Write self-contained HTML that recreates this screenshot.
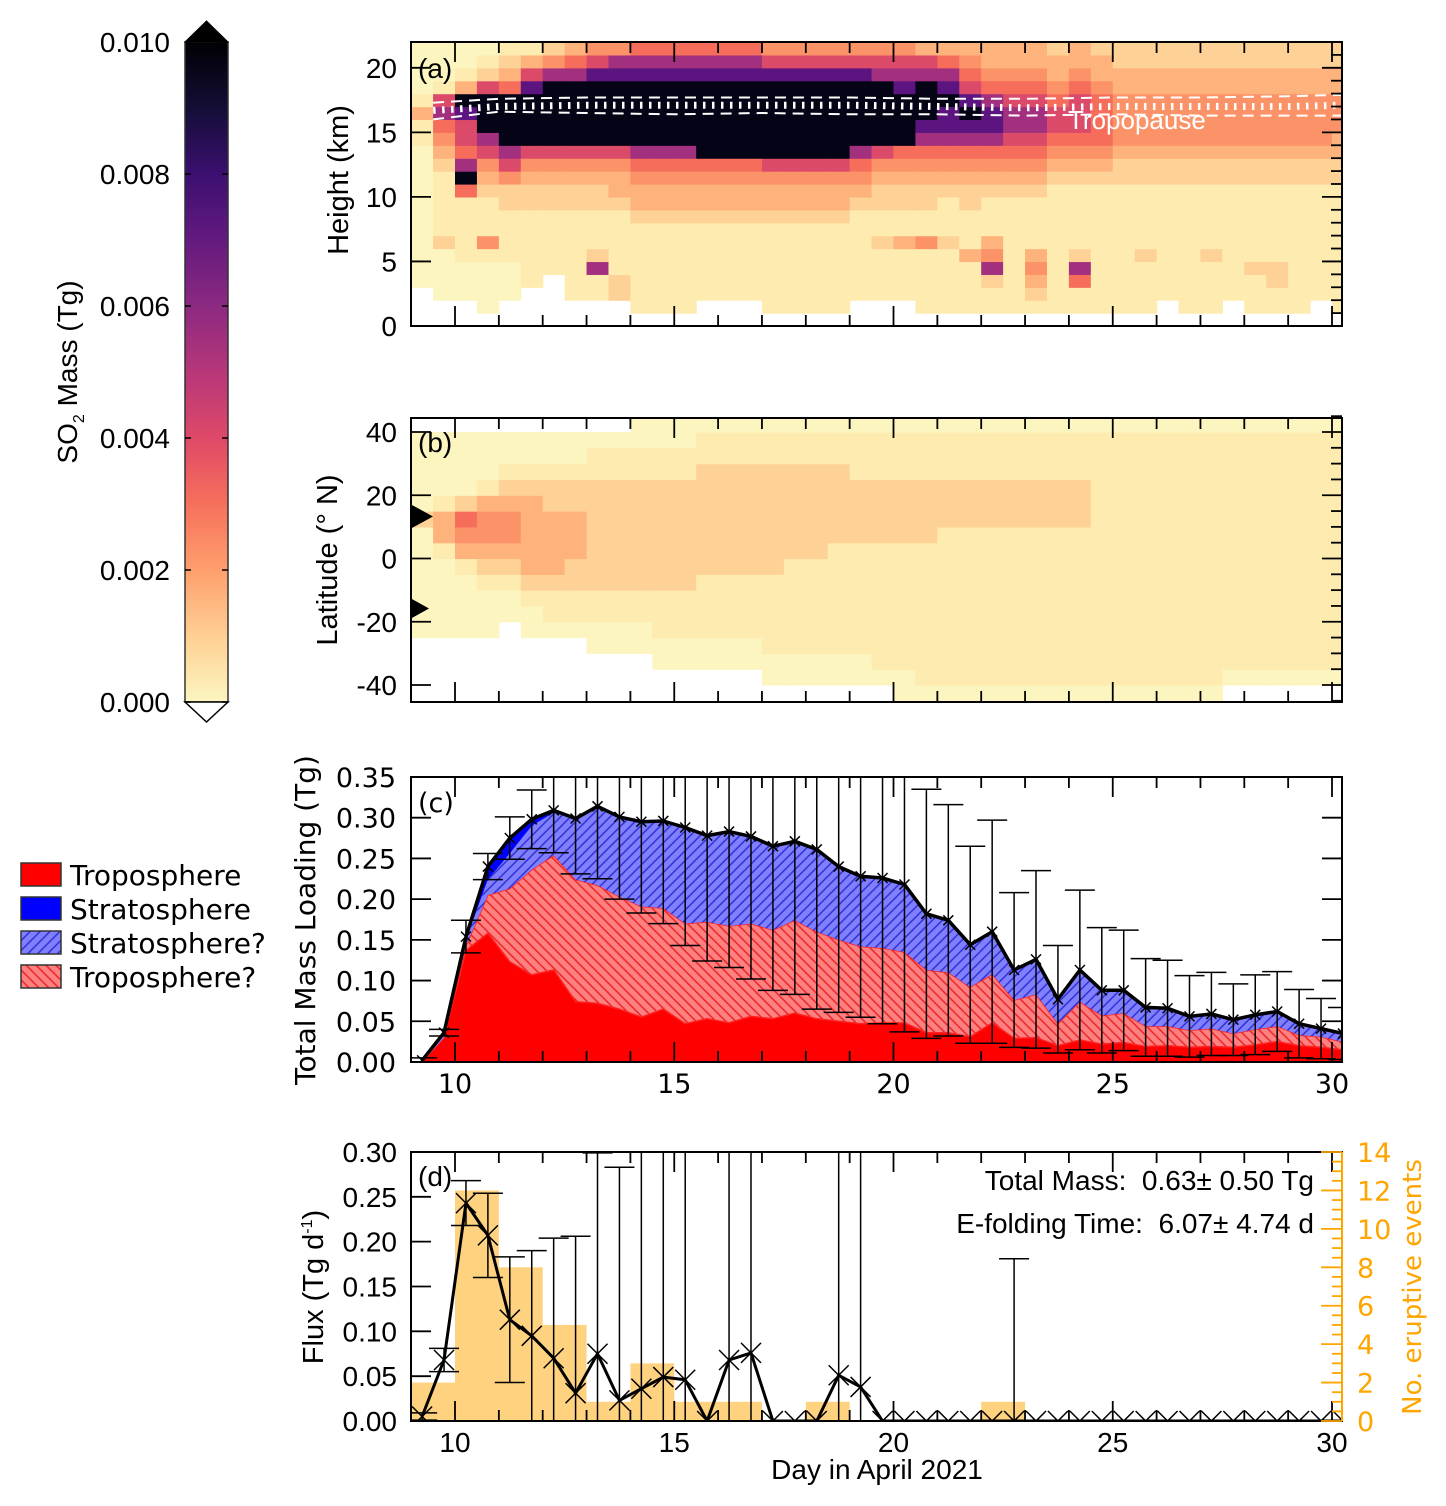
<!DOCTYPE html>
<html><head><meta charset="utf-8"><title>SO2 mass chart</title>
<style>
html,body{margin:0;padding:0;background:#fff;width:1446px;height:1506px;overflow:hidden;}
svg{display:block;}
.lib{font-family:"Liberation Sans",Arial,sans-serif;}
.dv{font-family:"DejaVu Sans","Liberation Sans",sans-serif;}
</style></head>
<body>
<svg id="chart" xmlns="http://www.w3.org/2000/svg" width="1446" height="1506" viewBox="0 0 1446 1506">
<defs>
<linearGradient id="magma" x1="0" y1="0" x2="0" y2="1">
<stop offset="0" stop-color="#000004"/><stop offset="0.1" stop-color="#140e36"/><stop offset="0.2" stop-color="#3b0f70"/><stop offset="0.3" stop-color="#641a80"/><stop offset="0.4" stop-color="#8c2981"/><stop offset="0.5" stop-color="#b73779"/><stop offset="0.6" stop-color="#de4968"/><stop offset="0.7" stop-color="#f7705c"/><stop offset="0.8" stop-color="#fe9f6d"/><stop offset="0.9" stop-color="#fecf92"/><stop offset="1" stop-color="#fcf6c0"/>
</linearGradient>
<pattern id="hatchBlue" patternUnits="userSpaceOnUse" width="7" height="7" patternTransform="rotate(45)"><rect width="7" height="7" fill="#8080ff"/><line x1="1" y1="0" x2="1" y2="7" stroke="#2a2ad0" stroke-width="1.4"/></pattern>
<pattern id="hatchRed" patternUnits="userSpaceOnUse" width="7" height="7" patternTransform="rotate(-45)"><rect width="7" height="7" fill="#ff8080"/><line x1="1" y1="0" x2="1" y2="7" stroke="#e82020" stroke-width="1.4"/></pattern>
<clipPath id="clipA"><rect x="411" y="42" width="931" height="284"/></clipPath>
<clipPath id="clipB"><rect x="411" y="418" width="931" height="284"/></clipPath>
<clipPath id="clipC"><rect x="411" y="777" width="931" height="285"/></clipPath>
<clipPath id="clipD"><rect x="411" y="1152" width="931" height="269"/></clipPath>
</defs>

<g>
<rect x="185" y="42" width="43" height="660" fill="url(#magma)" stroke="#333" stroke-width="1.5"/>
<polygon points="185,42 206.5,21 228,42" fill="#000" stroke="#000" stroke-width="1"/>
<polygon points="185,702 206.5,722 228,702" fill="#fff" stroke="#000" stroke-width="1.5"/>
<g id="cbTicks"></g>
<text class="lib" font-size="28" text-anchor="middle" transform="translate(77,372) rotate(-90)">SO<tspan font-size="16" dy="7">2</tspan><tspan dy="-7"> Mass (Tg)</tspan></text>
</g>

<g class="dv" font-size="28">
<rect x="21" y="863" width="40" height="23" fill="#ff0000" stroke="#333" stroke-width="1.5"/>
<text x="70" y="885">Troposphere</text>
<rect x="21" y="897" width="40" height="23" fill="#0000ff" stroke="#333" stroke-width="1.5"/>
<text x="70" y="919">Stratosphere</text>
<rect x="21" y="931" width="40" height="23" fill="url(#hatchBlue)" stroke="#333" stroke-width="1.5"/>
<text x="70" y="953">Stratosphere?</text>
<rect x="21" y="965" width="40" height="23" fill="url(#hatchRed)" stroke="#333" stroke-width="1.5"/>
<text x="70" y="987">Troposphere?</text>
</g>

<g id="panelA"><g id="heatA" clip-path="url(#clipA)"></g><g id="tropoA" clip-path="url(#clipA)"></g></g>
<g id="panelB"><g id="heatB" clip-path="url(#clipB)"></g></g>
<g id="panelC"><g id="areaC" clip-path="url(#clipC)"></g></g>
<g id="panelD"><g id="plotD" clip-path="url(#clipD)"></g></g>
<g id="axes"></g>

<text class="lib" font-size="26" fill="#fff" x="1068" y="129">Tropopause</text>
<text class="lib" font-size="28" x="418" y="78">(a)</text>
<text class="lib" font-size="28" x="418" y="452">(b)</text>
<text class="dv" font-size="27" x="418" y="812">(c)</text>
<text class="lib" font-size="28" x="418" y="1186">(d)</text>
<text class="lib" font-size="28" text-anchor="end" x="1314" y="1190" xml:space="preserve">Total Mass:  0.63± 0.50 Tg</text>
<text class="lib" font-size="28" text-anchor="end" x="1314" y="1233" xml:space="preserve">E-folding Time:  6.07± 4.74 d</text>

<text class="lib" font-size="29" text-anchor="middle" transform="translate(348,180) rotate(-90)">Height (km)</text>
<text class="lib" font-size="29" text-anchor="middle" transform="translate(337,560) rotate(-90)">Latitude (° N)</text>
<text class="dv" font-size="28" text-anchor="middle" transform="translate(315,920) rotate(-90)">Total Mass Loading (Tg)</text>
<text class="lib" font-size="29" text-anchor="middle" transform="translate(323,1287) rotate(-90)">Flux (Tg d<tspan font-size="16" dy="-11">-1</tspan><tspan dy="11">)</tspan></text>
<text class="dv" font-size="26" fill="#ffa500" text-anchor="middle" transform="translate(1421,1287) rotate(-90)">No. eruptive events</text>
<text class="lib" font-size="28" text-anchor="middle" x="877" y="1479">Day in April 2021</text>
</svg>

<script>
// ---------- data ----------
const heightGrid = [
"...0000000000011310000","..00002111112345761000","..00011111597566893100",".000014111234679996210",
"..00011112246799995321","...1111112234699998631","....111112234699999742","..11111112234699999753",
"..11721112234699999864","..22111112334699999874",".111111123345799999875",".111111123345799999875",
".111111123345799999875","..11111123345999999875","..11111123345999999875","..11111123345999999875",
".111111123346999999864",".111111123346999999864",".111111123346999999864",".111111123346999999864",
"..11111112345799999864","..11112112234699999764","..11113112234599998764",".111114112234578999763",
".111112111234578898753",".111131112234578986543",".112743111234578875433",".111111111234567765433",
".123431111234567765433",".111111111123456654332",".115721111123456665433",".111111111123455554332",
".111111111122344443322",".111121111122344443322","..11111111122344443322",".111111111122344443322",
".111121111122344443322","..11111111122344443322",".111211111122344443322",".112211111122344443322",
".111111111122344443322","..11111111122344443322",".111111111122334443322"];
const latGrid = [
"....0000000200000.","....0000013310000.","....0000134520000.","....0001234431000.",
".....001234432100.","....0012333332100.","....0112333322100.","....0112233322100.",
"...00112222222110.","...00112222222110.","...001122222221100","..0011122222221100",
"..0011122222221100","..0011112222222110","..0011112222222110","..0011112222222110",
".00111112222222110",".00111111222222110",".00111111222222110",".00111111122222110",
".00111111122221110",".01111111122221110","001111111122221110","011111111122221110",
"011111111112221110","011111111112221110","011111111112221110","011111111112221110",
"011111111112221110","011111111112221110","011111111112221110","011111111111111110",
"011111111111111110","011111111111111110","011111111111111110","011111111111111110",
"011111111111111110",".01111111111111110",".01111111111111110",".01111111111111110",
".01111111111111110",".01111111111111110",".01111111111111110"];
const gridStartDay = 9;
const levelColors = ['#fcf5c0','#fdebb0','#fed196','#feb27c','#fc9368','#f66e5b','#dc4a6a','#a3307e','#5c1580','#050416'];
const tropoDays = [9.5,11,13,15,17,19,21,23,25,27,29,30.3];
const tropoMid = [16.7,17.0,17.1,17.1,17.1,17.1,17.0,16.9,17.0,17.0,17.0,17.1];
const tropoUpper = [17.3,17.6,17.7,17.7,17.7,17.7,17.6,17.6,17.7,17.7,17.8,17.9];
const tropoLower = [16.0,16.6,16.5,16.4,16.5,16.4,16.4,16.3,16.4,16.3,16.3,16.3];
const days = [9.25,9.75,10.25,10.75,11.25,11.75,12.25,12.75,13.25,13.75,14.25,14.75,15.25,15.75,16.25,16.75,17.25,17.75,18.25,18.75,19.25,19.75,20.25,20.75,21.25,21.75,22.25,22.75,23.25,23.75,24.25,24.75,25.25,25.75,26.25,26.75,27.25,27.75,28.25,28.75,29.25,29.75,30.25];
const troposphere = [0,0.03,0.137,0.158,0.123,0.107,0.113,0.074,0.072,0.065,0.055,0.065,0.047,0.053,0.048,0.056,0.053,0.060,0.053,0.050,0.047,0.048,0.048,0.036,0.036,0.031,0.048,0.029,0.030,0.020,0.027,0.022,0.024,0.019,0.020,0.018,0.019,0.018,0.021,0.025,0.020,0.018,0.015];
const troposphereQ = [0,0,0.006,0.047,0.090,0.129,0.141,0.150,0.145,0.138,0.136,0.124,0.123,0.119,0.119,0.114,0.109,0.114,0.107,0.100,0.095,0.092,0.087,0.077,0.074,0.061,0.060,0.047,0.053,0.027,0.047,0.035,0.036,0.025,0.024,0.021,0.022,0.017,0.019,0.019,0.013,0.013,0.010];
const stratosphereQ = [0.002,0.006,0.007,0.019,0.043,0.054,0.052,0.075,0.097,0.098,0.104,0.107,0.118,0.106,0.116,0.107,0.103,0.097,0.101,0.090,0.086,0.086,0.083,0.069,0.064,0.052,0.052,0.037,0.043,0.030,0.039,0.031,0.028,0.023,0.022,0.017,0.018,0.017,0.018,0.018,0.014,0.010,0.010];
const stratosphere = [0,0,0.004,0.016,0.019,0.008,0.003,0,0,0,0,0,0,0,0,0,0,0,0,0,0,0,0,0,0,0,0,0,0,0,0,0,0,0,0,0,0,0,0,0,0,0,0];
const massErr = [0.003,0.004,0.02,0.016,0.026,0.036,0.052,0.068,0.089,0.101,0.112,0.126,0.145,0.154,0.167,0.175,0.177,0.188,0.196,0.179,0.173,0.179,0.181,0.153,0.142,0.121,0.137,0.095,0.109,0.066,0.098,0.077,0.074,0.060,0.059,0.050,0.051,0.044,0.049,0.049,0.042,0.037,0.032];
const flux = [0.005,0.068,0.243,0.207,0.113,0.095,0.070,0.031,0.075,0.023,0.036,0.049,0.046,0,0.068,0.076,0,0,0,0.051,0.038,0,0,0,0,0,0,0,0,0,0,0,0,0,0,0,0,0,0,0,0,0,0];
const fluxErr = [0.004,0.013,0.025,0.047,0.070,0.095,0.134,0.175,0.224,0.26,0.4,0.4,0.4,0,0.4,0.4,0,0,0,0.4,0.4,0,0,0,0,0,0,0.181,0,0,0,0,0,0,0,0,0,0,0,0,0,0,0];
const eventDays = [9,10,11,12,13,14,15,16,17,18,19,20,21,22,23,24,25,26,27,28,29,30];
const eventCounts = [2,12,8,5,1,3,1,1,0,1,0,0,0,1,0,0,0,0,0,0,0,0];
const cbTickValues = [0.000,0.002,0.004,0.006,0.008,0.010];
const heightTicks = [0,5,10,15,20];
const latTicks = [-40,-20,0,20,40];
const massTicks = [0,0.05,0.10,0.15,0.20,0.25,0.30,0.35];
const fluxTicks = [0,0.05,0.10,0.15,0.20,0.25,0.30];
const eventTicks = [0,2,4,6,8,10,12,14];
const dayTicks = [10,15,20,25,30];
const volcanoLats = [13.3,-15.8];

// ---------- scales ----------
const L=411, R=1342;
const X = d => 455 + (d-10)*43.85;
const Ya = h => 326 - h*12.91;
const Yb = lat => 558.5 - lat*3.1625;
const Yc = v => 1062 - v*814.3;
const Yd = v => 1421 - v*896.7;
const Yr = n => 1421 - n*19.214;
const clampY = (y,lo,hi) => Math.max(lo, Math.min(hi, y));
const NS='http://www.w3.org/2000/svg';
function mk(tag, attrs, parent){ const e=document.createElementNS(NS,tag); for(const k in attrs) e.setAttribute(k,attrs[k]); parent.appendChild(e); return e; }
const axes=document.getElementById('axes');

const cbG=document.getElementById('cbTicks');
cbTickValues.forEach(v=>{
  const y=702 - v/0.010*660;
  const t1=mk('line',{x1:185,y1:y,x2:191,y2:y,stroke:'#000','stroke-width':1.5},cbG);
  
  
  const t2=mk('line',{x1:222,y1:y,x2:228,y2:y,stroke:'#000','stroke-width':1.5},cbG);
  
  
  const tx=mk('text',{x:170,y:y+10,'text-anchor':'end','font-size':28,class:'lib'},cbG);
  tx.textContent=v.toFixed(3);
  
  
});

const heatA=document.getElementById('heatA');
heightGrid.forEach((col,c)=>{
  const x0=X(gridStartDay+0.5*c), x1=Math.min(R, X(gridStartDay+0.5*c+0.5)+0.6);
  for(let r=0;r<col.length;r++){
    const ch=col[r]; if(ch==='.') continue;
    const cell=mk('rect',{x:x0,y:Ya(r+1),width:x1-x0,height:Ya(r)-Ya(r+1)+0.6,fill:levelColors[+ch]},heatA);
    
    
  }
});
const tropoA=document.getElementById('tropoA');
function tpPath(arr){ return arr.map((h,i)=>(i?'L':'M')+Math.min(R,X(tropoDays[i])).toFixed(1)+','+Ya(h).toFixed(1)).join(''); }
const tpU=mk('path',{d:tpPath(tropoUpper),fill:'none',stroke:'#fff','stroke-width':2,'stroke-dasharray':'11 7'},tropoA);


const tpL=mk('path',{d:tpPath(tropoLower),fill:'none',stroke:'#fff','stroke-width':2,'stroke-dasharray':'11 7'},tropoA);


const tpM=mk('path',{d:tpPath(tropoMid),fill:'none',stroke:'#fff','stroke-width':7,'stroke-dasharray':'2.5 6.5'},tropoA);



const heatB=document.getElementById('heatB');
latGrid.forEach((col,c)=>{
  const x0=X(gridStartDay+0.5*c), x1=Math.min(R, X(gridStartDay+0.5*c+0.5)+0.6);
  for(let r=0;r<col.length;r++){
    const ch=col[r]; if(ch==='.') continue;
    const lat0=-45+5*r;
    const yt=clampY(Yb(lat0+5),418,702), yb=clampY(Yb(lat0)+0.6,418,702);
    const cell=mk('rect',{x:x0,y:yt,width:x1-x0,height:yb-yt,fill:levelColors[+ch]},heatB);
    
    
  }
});
volcanoLats.forEach((lat,i)=>{
  const y=Yb(lat), s=i===0?12:10, w=i===0?22:18;
  const tri=mk('polygon',{points:`${L},${y-s} ${L+w},${y} ${L},${y+s}`,fill:'#000'},axes);
  
  
});

const areaC=document.getElementById('areaC');
const layers=[troposphere,troposphereQ,stratosphereQ,stratosphere];
const layerFills=['#ff0000','url(#hatchRed)','url(#hatchBlue)','#0000ff'];
const layerNames=['area-troposphere','area-troposphere-uncertain','area-stratosphere-uncertain','area-stratosphere'];
let base=days.map(()=>0);
const total=days.map(()=>0);
layers.forEach((vals,li)=>{
  const top=base.map((b,i)=>b+vals[i]);
  let pts=days.map((d,i)=>Math.min(R,X(d)).toFixed(1)+','+Yc(top[i]).toFixed(1));
  for(let i=days.length-1;i>=0;i--) pts.push(Math.min(R,X(days[i])).toFixed(1)+','+Yc(base[i]).toFixed(1));
  const poly=mk('polygon',{points:pts.join(' '),fill:layerFills[li],stroke:li<2?'#ff2020':'none','stroke-width':li===1?1.5:0},areaC);
  
  
  base=top;
});
base.forEach((v,i)=>total[i]=v);
days.forEach((d,i)=>{
  const x=X(d), y1=clampY(Yc(total[i]+massErr[i]),772,1067), y2=clampY(Yc(total[i]-massErr[i]),772,1067);
  const eb=mk('line',{x1:x,y1:y1,x2:x,y2:y2,stroke:'#000','stroke-width':1.5},areaC);
  
  
  const c1=mk('line',{x1:x-15,y1:y1,x2:x+15,y2:y1,stroke:'#000','stroke-width':1.5},areaC);
  
  
  const c2=mk('line',{x1:x-15,y1:y2,x2:x+15,y2:y2,stroke:'#000','stroke-width':1.5},areaC);
  
  
});
const totLine=mk('polyline',{points:days.map((d,i)=>X(d).toFixed(1)+','+Yc(total[i]).toFixed(1)).join(' '),fill:'none',stroke:'#000','stroke-width':3.5,'stroke-linejoin':'round'},areaC);


days.forEach((d,i)=>{
  const x=X(d), y=Yc(total[i]), s=5;
  const m=mk('path',{d:`M${x-s},${y-s}L${x+s},${y+s}M${x-s},${y+s}L${x+s},${y-s}`,stroke:'#000','stroke-width':1.5},areaC);
  
  
});

const plotD=document.getElementById('plotD');
eventDays.forEach((d,i)=>{
  if(!eventCounts[i]) return;
  const b=mk('rect',{x:X(d),y:Yr(eventCounts[i]),width:X(d+1)-X(d),height:Yr(0)-Yr(eventCounts[i]),fill:'#ffa500','fill-opacity':0.5},plotD);
  
  
});
days.forEach((d,i)=>{
  if(!fluxErr[i]) return;
  const x=X(d), y1=clampY(Yd(flux[i]+fluxErr[i]),1147,1426), y2=clampY(Yd(flux[i]-fluxErr[i]),1147,1426);
  const eb=mk('line',{x1:x,y1:y1,x2:x,y2:y2,stroke:'#000','stroke-width':1.5},plotD);
  
  
  const c1=mk('line',{x1:x-15,y1:y1,x2:x+15,y2:y1,stroke:'#000','stroke-width':1.5},plotD);
  
  
  const c2=mk('line',{x1:x-15,y1:y2,x2:x+15,y2:y2,stroke:'#000','stroke-width':1.5},plotD);
  
  
});
const fluxLine=mk('polyline',{points:days.map((d,i)=>X(d).toFixed(1)+','+Yd(flux[i]).toFixed(1)).join(' '),fill:'none',stroke:'#000','stroke-width':3,'stroke-linejoin':'round'},plotD);


days.forEach((d,i)=>{
  const x=X(d), y=Yd(flux[i]), s=10;
  const m=mk('path',{d:`M${x-s},${y-s}L${x+s},${y+s}M${x-s},${y+s}L${x+s},${y-s}`,stroke:'#000','stroke-width':1.5},plotD);
  
  
});

function tick(x1,y1,x2,y2,color,name){
  const t=mk('line',{x1:x1,y1:y1,x2:x2,y2:y2,stroke:color||'#000','stroke-width':1.8},axes);
  
  
}
function label(x,y,txt,anchor,cls,color,name,size){
  const t=mk('text',{x:x,y:y,'text-anchor':anchor,'font-size':size||28,class:cls,fill:color||'#000'},axes);
  t.textContent=txt;
  
  
}
const panels=[{top:42,bot:326},{top:418,bot:702},{top:777,bot:1062},{top:1152,bot:1421}];
panels.forEach((p,pi)=>{
  const fr=mk('rect',{x:L,y:p.top,width:R-L,height:p.bot-p.top,fill:'none',stroke:'#000','stroke-width':2},axes);
  
  
  for(let d=10; d<=30; d++){
    const len=d%5===0?20:11;
    tick(X(d),p.bot,X(d),p.bot-len,'#000','x-tick');
    tick(X(d),p.top,X(d),p.top+len,'#000','x-tick');
  }
});
for(let h=0;h<=22;h++){
  if(h%5===0){ tick(L,Ya(h),L+20,Ya(h),'#000','y-tick'); tick(R,Ya(h),R-20,Ya(h),'#000','y-tick'); }
  else tick(R,Ya(h),R-11,Ya(h),'#000','y-tick');
}
heightTicks.forEach(h=>label(397,Ya(h)+10,String(h),'end','lib','#000','y-tick-label-height'));
for(let lat=-45;lat<=45;lat+=5){
  if(lat%20===0){ tick(L,Yb(lat),L+20,Yb(lat),'#000','y-tick'); tick(R,Yb(lat),R-20,Yb(lat),'#000','y-tick'); }
  else tick(R,Yb(lat),R-11,Yb(lat),'#000','y-tick');
}
latTicks.forEach(v=>label(397,Yb(v)+10,String(v),'end','lib','#000','y-tick-label-latitude'));
massTicks.forEach(v=>{
  tick(L,Yc(v),L+20,Yc(v),'#000','y-tick'); tick(R,Yc(v),R-20,Yc(v),'#000','y-tick');
  label(396,Yc(v)+10,v.toFixed(2),'end','dv','#000','y-tick-label-mass',27);
});
dayTicks.forEach(d=>label(X(d),1093,String(d),'middle','dv','#000','x-tick-label-c',27));
fluxTicks.forEach(v=>{
  tick(L,Yd(v),L+20,Yd(v),'#000','y-tick');
  label(397,Yd(v)+10,v.toFixed(2),'end','lib','#000','y-tick-label-flux');
});
dayTicks.forEach(d=>label(X(d),1452,String(d),'middle','lib','#000','x-tick-label-d'));
const ra=mk('line',{x1:R,y1:1152,x2:R,y2:1421,stroke:'#ffa500','stroke-width':2},axes);


for(let n=0;n<=14;n+=0.5){
  const len=(n%2===0)?21:10;
  tick(R,Yr(n),R-len,Yr(n),'#ffa500','right-y-tick');
}
eventTicks.forEach(n=>label(1357,Yr(n)+10,String(n),'start','dv','#ffa500','y-tick-label-events',27));
</script>
</body></html>
